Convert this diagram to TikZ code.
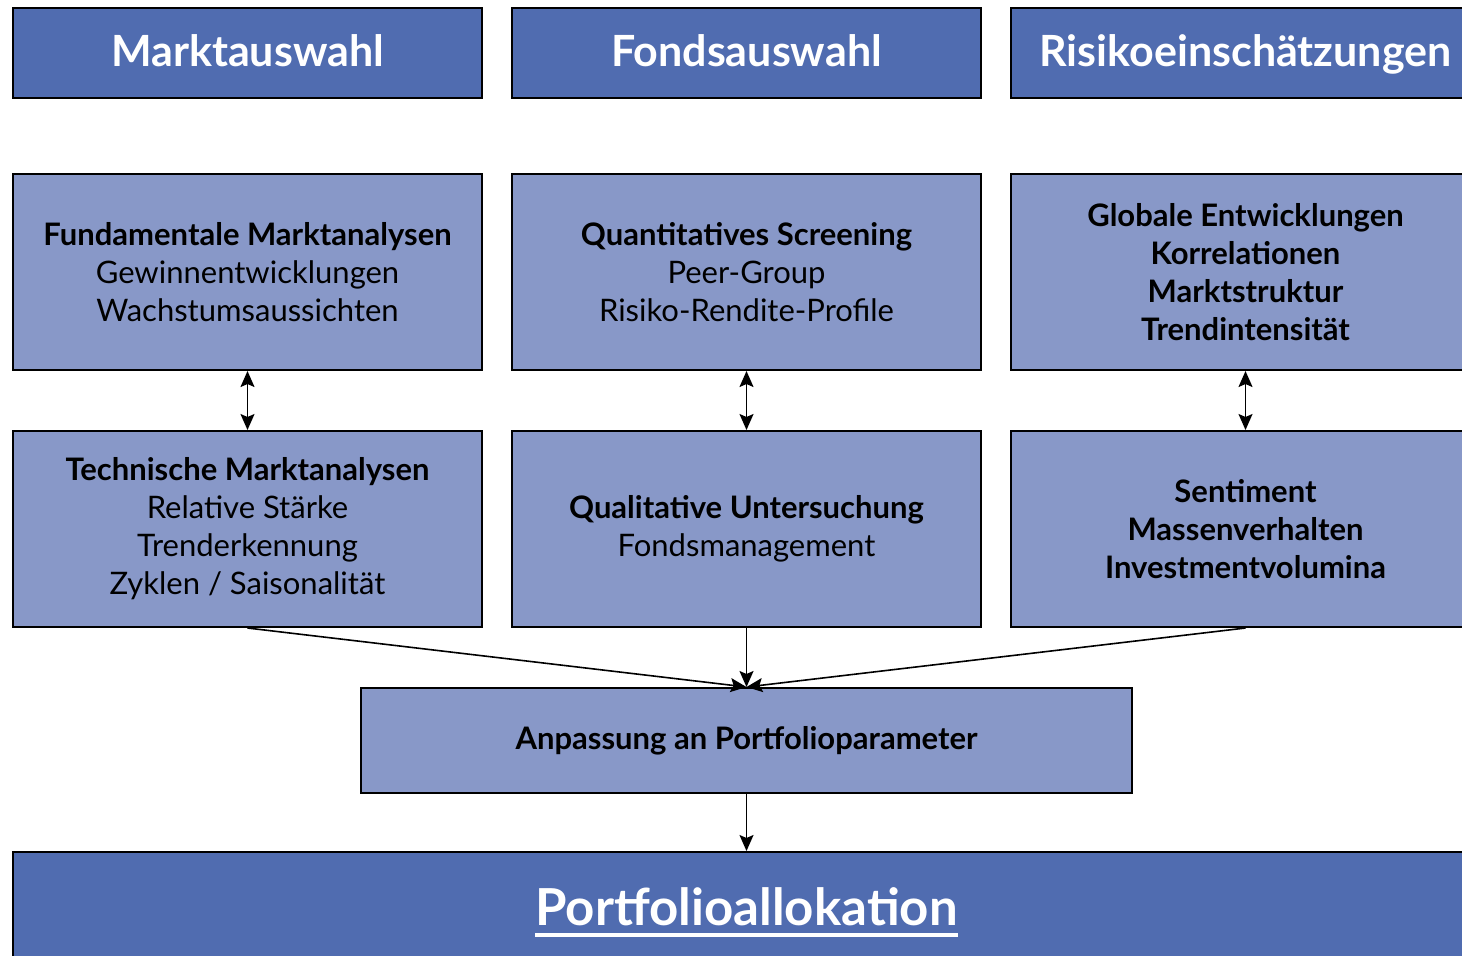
\documentclass[tikz,border=0pt]{standalone}
\usepackage{fontspec}
\setmainfont{Lato}
\usepackage{tikz}
\usetikzlibrary{arrows.meta,positioning}
\definecolor{pfdark}{RGB}{80,108,176}
\definecolor{pflight}{RGB}{136,152,200}
\tikzstyle{headbox} = [rectangle, minimum width=234.5pt, minimum height=45pt, draw=black, fill=pfdark, line width=1pt, text=white, text height=17.5pt, text depth=4.5pt, font=\fontsize{21.5}{24}\selectfont\bfseries]
\tikzstyle{infobox} = [rectangle, minimum width=234.5pt, minimum height=98pt, draw=black, fill=pflight, line width=1pt, align=center, font=\fontsize{15.5}{19}\selectfont]
\tikzstyle{arrow} = [line width=0.8pt,-{Stealth[length=8pt,width=7pt,inset=1.5pt]}]
\tikzstyle{dblarrow} = [line width=0.8pt,{Stealth[length=8pt,width=7pt,inset=1.5pt]}-{Stealth[length=8pt,width=7pt,inset=1.5pt]}]
\newcommand{\thickul}[1]{\vtop{\hbox{#1}\kern4pt\hrule height 2pt}}

\begin{document}
\begin{tikzpicture}[x=0.5pt, y=-0.5pt]
\useasboundingbox (0,0) rectangle (1462,955);

% headers
\node (markt) [headbox] at (247.5,53) {Marktauswahl};
\node (fonds) [headbox] at (746.5,53) {Fondsauswahl};
\node (risiko) [headbox] at (1245.5,53) {Risikoeinschätzungen};

% first analysis row
\node (fundam) [infobox] at (247.5,272) {\textbf{Fundamentale Marktanalysen}\\
Gewinnentwicklungen\\
Wachstumsaussichten};
\node (quanti) [infobox] at (746.5,272) {\textbf{Quantitatives Screening}\\
Peer-Group\\
Risiko-Rendite-Profile};
\node (global) [infobox, font=\fontsize{15.5}{19}\selectfont\bfseries] at (1245.5,272) {Globale Entwicklungen\\
Korrelationen\\
Marktstruktur\\
Trendintensität};

% second analysis row
\node (technik) [infobox] at (247.5,529) {\textbf{Technische Marktanalysen}\\
Relative Stärke\\
Trenderkennung\\
Zyklen / Saisonalität};
\node (quali) [infobox] at (746.5,529) {\textbf{Qualitative Untersuchung}\\
Fondsmanagement};
\node (senti) [infobox, font=\fontsize{15.5}{19}\selectfont\bfseries] at (1245.5,529) {Sentiment\\
Massenverhalten\\
Investmentvolumina};

% adjustment and result
\node (anpass) [infobox, minimum width=385.5pt, minimum height=52.5pt, font=\fontsize{15.5}{18}\selectfont\bfseries] at (746.5,740.5) {Anpassung an Portfolioparameter};
\node (palloc) [headbox, minimum width=733.5pt, minimum height=55pt] at (746.5,907) {};
\node (ptext) [text=white, font=\fontsize{25.5}{30}\selectfont\bfseries, anchor=base] at (746.5,925) {\thickul{Portfolioallokation}};

\draw[dblarrow] (fundam) -- (technik);
\draw[dblarrow] (quanti) -- (quali);
\draw[dblarrow] (global) -- (senti);
\draw[arrow] (technik.south) -- (anpass.north);
\draw[arrow] (quali.south) -- (anpass.north);
\draw[arrow] (senti.south) -- (anpass.north);
\draw[arrow] (anpass) -- (palloc);
\end{tikzpicture}
\end{document}
